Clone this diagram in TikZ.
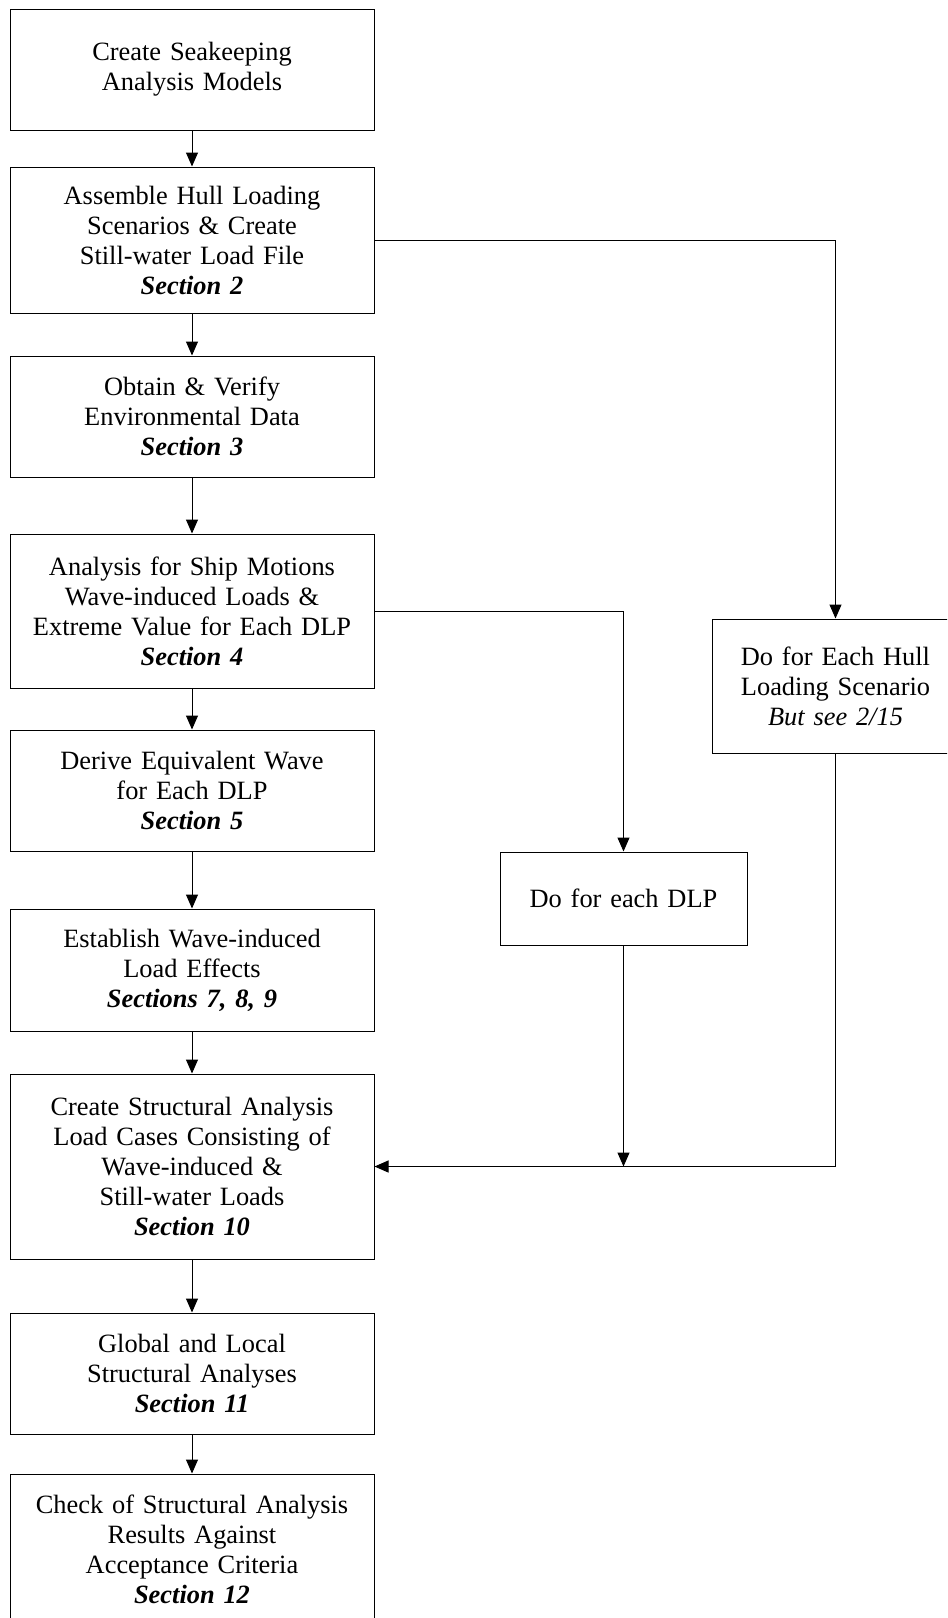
\documentclass[tikz,border=0pt]{standalone}
\usepackage{fontspec}
\setmainfont{Liberation Serif}
\usetikzlibrary{arrows.meta}

\begin{document}
\begin{tikzpicture}[
                x=0.75pt,y=-0.75pt,
                line width=0.75pt,
                >={Triangle[length=10.5pt,width=9pt]},
                font=\fontsize{19.8}{22.5}\selectfont,
                stepbox/.style={draw,align=center,text width=273pt,inner sep=0pt},
                loopbox/.style={draw,align=center,text width=185.25pt,inner sep=0pt}] %

\useasboundingbox (0,0) rectangle (947,1618);
\clip (0,0) rectangle (947,1618);

                    % main column
                    \node[stepbox,minimum height=90.75pt] (Step1) at (192,69.5) {Create Seakeeping\\Analysis Models}; % 1
                    \node[stepbox,minimum height=109.5pt] (Step2) at (192,240) {Assemble Hull Loading\\Scenarios \& Create\\Still-water Load File\\\textbf{\textit{Section 2}}}; % 2
                    \node[stepbox,minimum height=90.75pt] (Step3) at (192,416.5) {Obtain \& Verify\\Environmental Data\\\textbf{\textit{Section 3}}}; % 3
                    \node[stepbox,minimum height=115.5pt] (Step4) at (192,611) {Analysis for Ship Motions\\Wave-induced Loads \&\\Extreme Value for Each DLP\\\textbf{\textit{Section 4}}}; % 4
                    \node[stepbox,minimum height=90.75pt] (Step5) at (192,790.5) {Derive Equivalent Wave\\for Each DLP\\\textbf{\textit{Section 5}}}; % 5
                    \node[stepbox,minimum height=91.5pt] (Step6) at (192,970) {Establish Wave-induced\\Load Effects\\\textbf{\textit{Sections 7, 8, 9}}}; % 6
                    \node[stepbox,minimum height=138.75pt] (Step7) at (192,1166.5) {Create Structural Analysis\\Load Cases Consisting of\\Wave-induced \&\\Still-water Loads\\\textbf{\textit{Section 10}}}; % 7
                    \node[stepbox,minimum height=90.75pt] (Step8) at (192,1373.5) {Global and Local\\Structural Analyses\\\textbf{\textit{Section 11}}}; % 8
                    \node[stepbox,minimum height=112.5pt] (Step9) at (192,1549) {Check of Structural Analysis\\Results Against\\Acceptance Criteria\\\textbf{\textit{Section 12}}}; % 9

                    \draw[->] (Step1) -- (Step2);
                    \draw[->] (Step2) -- (Step3);
                    \draw[->] (Step3) -- (Step4);
                    \draw[->] (Step4) -- (Step5);
                    \draw[->] (Step5) -- (Step6);
                    \draw[->] (Step6) -- (Step7);
                    \draw[->] (Step7) -- (Step8);
                    \draw[->] (Step8) -- (Step9);


 % loop over each DLP
                    \node[loopbox,minimum height=69.75pt] (LoopDLP) at (623.5,898.5) {Do for each DLP};
                    \draw[->] (Step4.east) -| (LoopDLP.north);
                    \draw[->] (LoopDLP.south) -- (LoopDLP.south |- Step7.east);


 % loop over each hull loading scenario
                    \node[loopbox,minimum height=100.5pt] (LoopHull) at (835.5,686) {Do for Each Hull\\Loading Scenario\\\textit{But see 2/15}};
                    \draw[->] (Step2.east) -| (LoopHull.north);
                    \draw[->] (LoopHull.south) |- (Step7.east);

                    \end{tikzpicture}
\end{document}
